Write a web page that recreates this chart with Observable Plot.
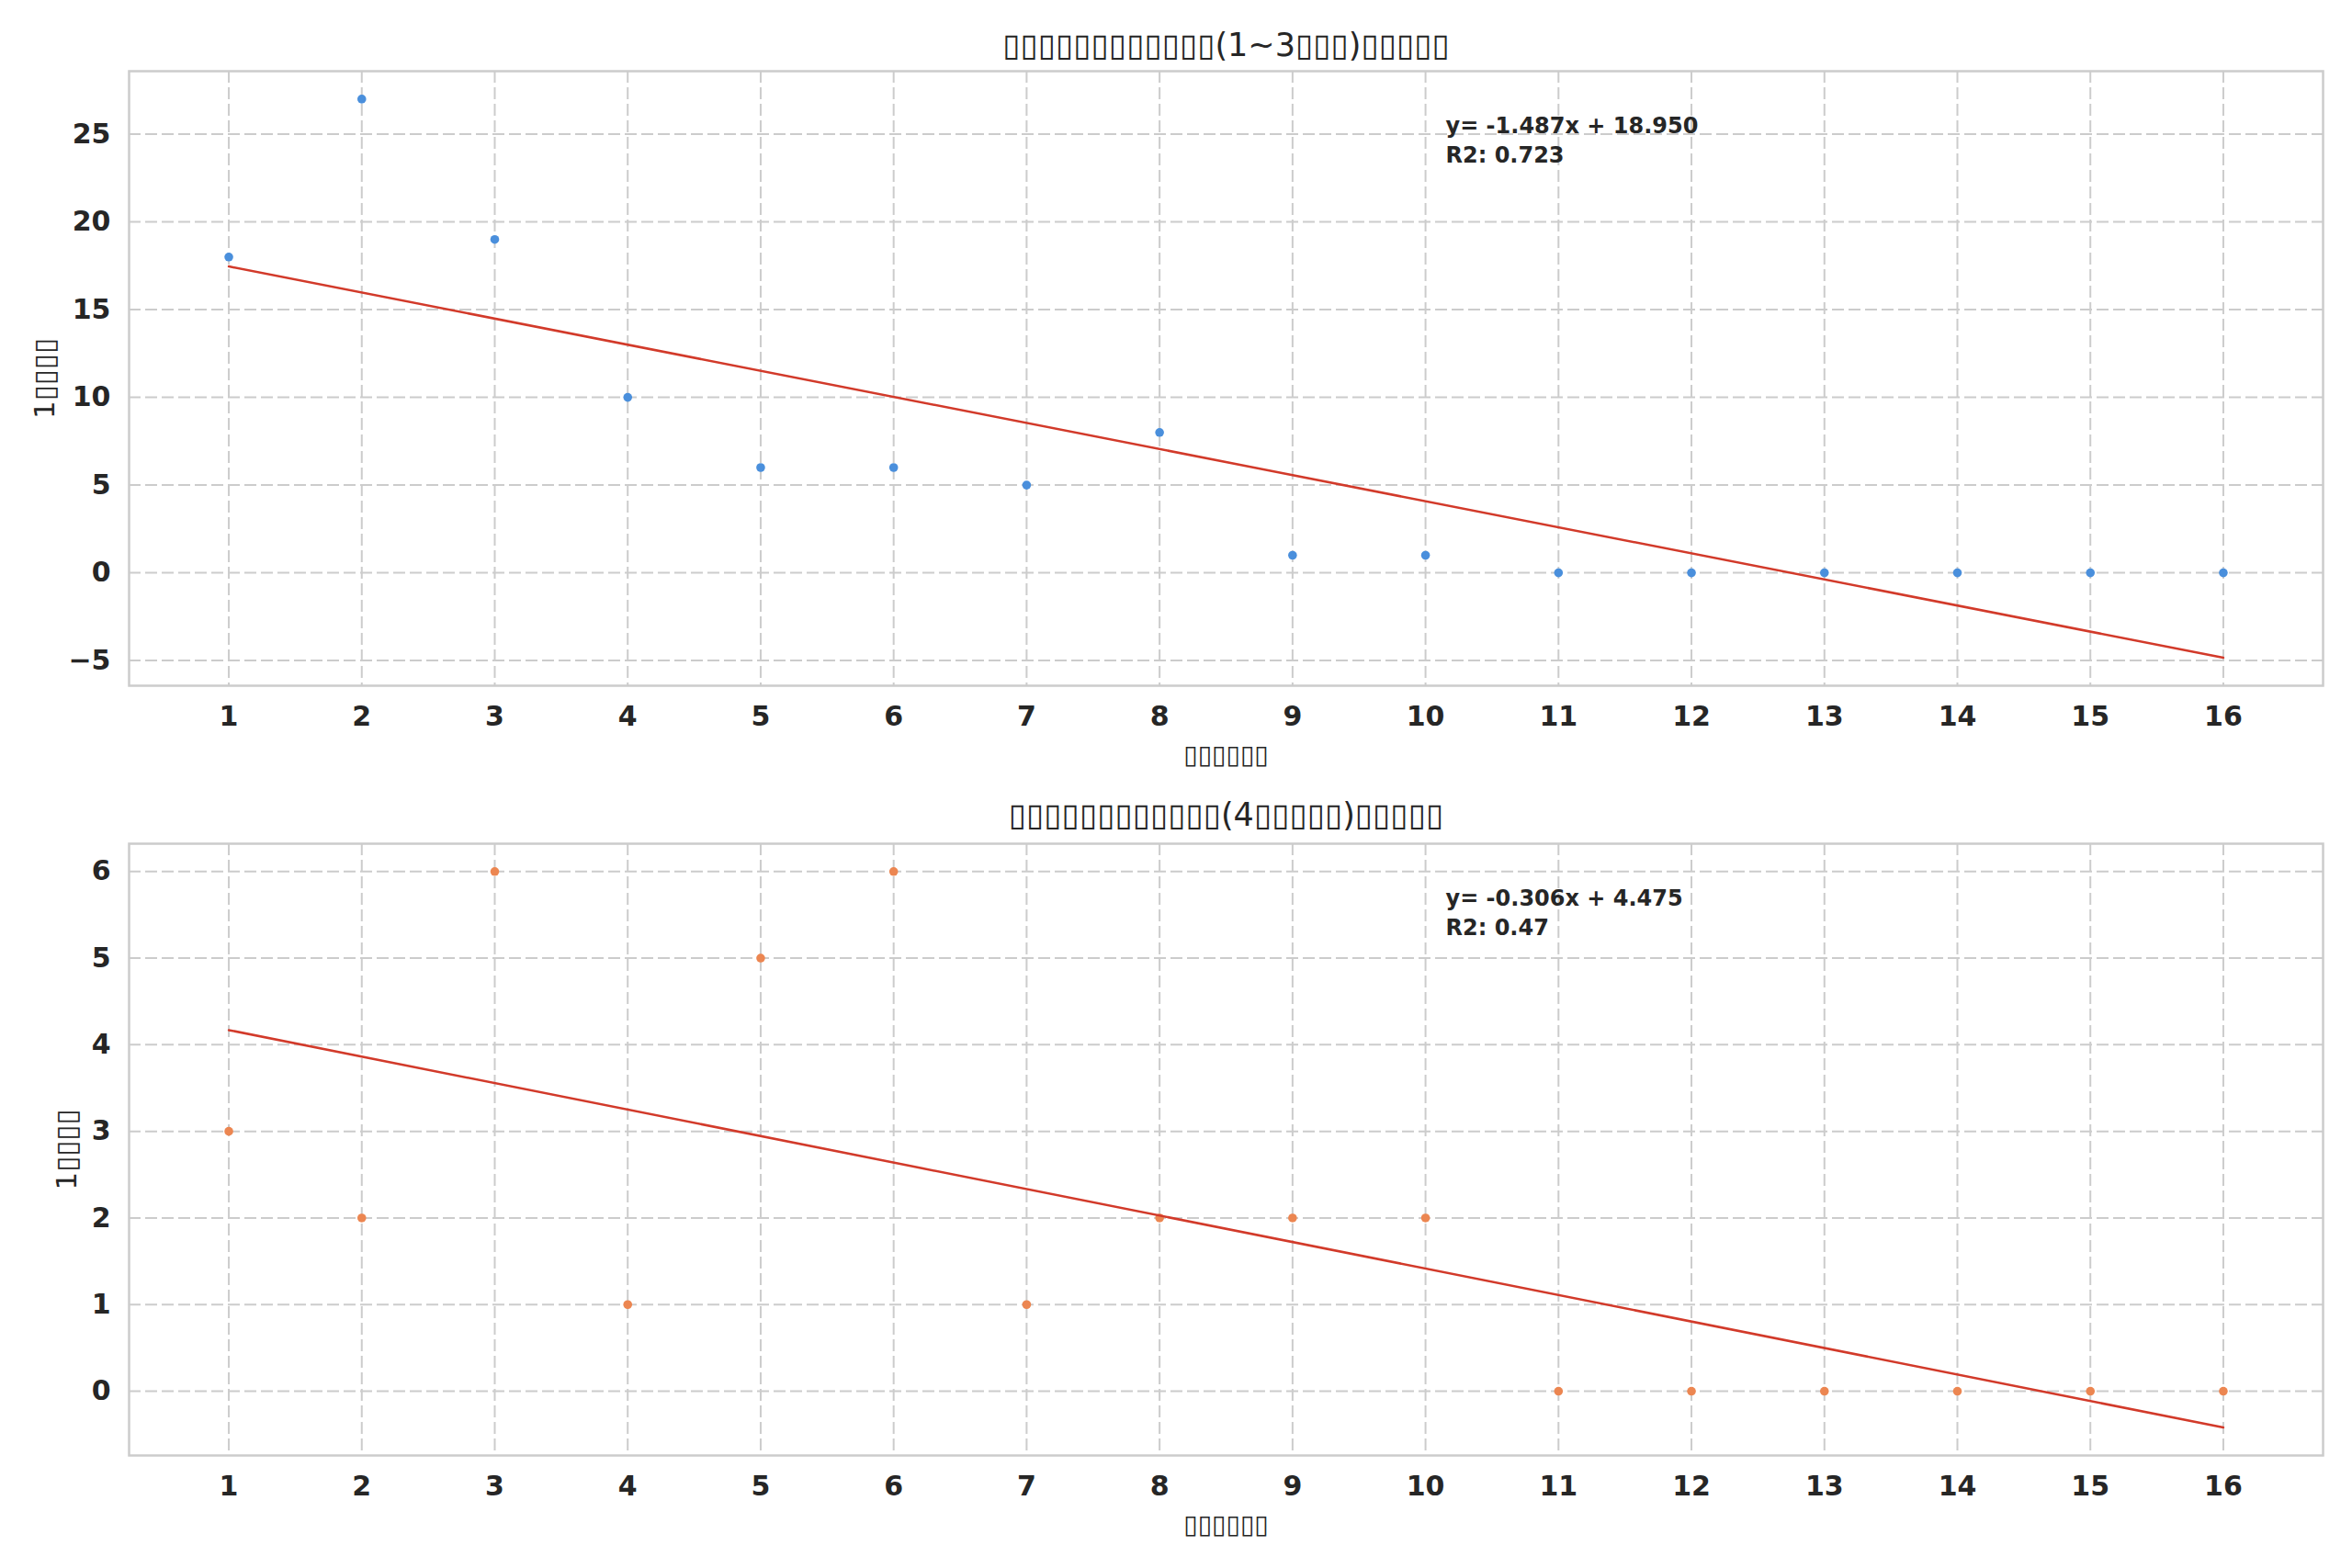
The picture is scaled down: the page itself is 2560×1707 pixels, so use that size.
<!DOCTYPE html>
<html>
<head>
<meta charset="utf-8">
<script src="https://cdn.jsdelivr.net/npm/d3@7"></script>
<script src="https://cdn.jsdelivr.net/npm/@observablehq/plot@0.6"></script>
<style>
  html, body { margin: 0; padding: 0; background: #ffffff; }
  #chart svg { display: block; }
</style>
</head>
<body>
<div id="chart"></div>
<script>
// ---- data ----
// Chinese text in the reference rendered as missing-glyph boxes; kept as boxes (U+25AF).
const B = "\u25AF";
const weeks = [1, 2, 3, 4, 5, 6, 7, 8, 9, 10, 11, 12, 13, 14, 15, 16];
const countsA = [18, 27, 19, 10, 6, 6, 5, 8, 1, 1, 0, 0, 0, 0, 0, 0];
const countsB = [3, 2, 6, 1, 5, 6, 1, 2, 2, 2, 0, 0, 0, 0, 0, 0];
const yTicksA = [-5, 0, 5, 10, 15, 20, 25];
const yTicksB = [0, 1, 2, 3, 4, 5, 6];
const titleA = B.repeat(12) + "(1~3" + B.repeat(3) + ")" + B.repeat(5);
const titleB = B.repeat(12) + "(4" + B.repeat(5) + ")" + B.repeat(5);
const xLabel = B.repeat(6);
const yLabel = "1" + B.repeat(4);
const eqA = ["y= -1.487x + 18.950", "R2: 0.723"];
const eqB = ["y= -0.306x + 4.475", "R2: 0.47"];
const slopeA = -1.487, interceptA = 18.950;
const slopeB = -0.306, interceptB = 4.475;
const colorA = "#4a8fdc";
const colorB = "#ec8651";
const lineColor = "#d23a2a";

function paddedDomain(vals, slope, intercept) {
  const ends = [slope * d3.min(weeks) + intercept, slope * d3.max(weeks) + intercept];
  const lo = Math.min(d3.min(vals), ...ends), hi = Math.max(d3.max(vals), ...ends);
  const pad = (hi - lo) * 0.05;
  return [lo - pad, hi + pad];
}
const xPad = (d3.max(weeks) - d3.min(weeks)) * 0.05;
const xDomain = [d3.min(weeks) - xPad, d3.max(weeks) + xPad];
const intFormat = d3.format("d");

function panel({counts, yTicks, yDomain, color, title, eq, height, marginTop, marginBottom, yLabelDx, titleDy}) {
  const data = weeks.map((w, i) => ({week: w, count: counts[i]}));
  const gridStyle = {stroke: "#cccccc", strokeOpacity: 1, strokeWidth: 2, strokeDasharray: "13,5"};
  return Plot.plot({
    width: 2560,
    height,
    marginTop,
    marginBottom,
    marginLeft: 140,
    marginRight: 32,
    style: {fontFamily: "DejaVu Sans", fontSize: "30px", fontWeight: "bold", color: "#262626", background: "#ffffff", overflow: "visible"},
    x: {domain: xDomain},
    y: {domain: yDomain},
    marks: [
      Plot.gridX(weeks, gridStyle),
      Plot.gridY(yTicks, gridStyle),
      Plot.frame({stroke: "#cccccc", strokeWidth: 2.5}),
      Plot.axisX(weeks, {tickSize: 0, tickPadding: 22, tickFormat: intFormat, label: null}),
      Plot.axisY(yTicks, {tickSize: 0, tickPadding: 20, tickFormat: intFormat, label: null}),
      Plot.dot(data, {x: "week", y: "count", r: 4.8, fill: color}),
      Plot.linearRegressionY(data, {x: "week", y: "count", stroke: lineColor, strokeWidth: 2.5, ci: 0}),
      Plot.text([eq.join("\n")], {frameAnchor: "top-left", dx: 1433, dy: 45, lineAnchor: "top", textAnchor: "start", fontSize: 24, fontWeight: "bold", lineHeight: 1.34, fill: "#262626"}),
      Plot.text([title], {frameAnchor: "top", dy: titleDy, lineAnchor: "middle", fontSize: 35, fontWeight: "normal", fill: "#262626"}),
      Plot.text([xLabel], {frameAnchor: "bottom", dy: 76, lineAnchor: "middle", fontSize: 28, fontWeight: "normal", fill: "#262626"}),
      Plot.text([yLabel], {frameAnchor: "left", dx: yLabelDx, rotate: -90, lineAnchor: "middle", textAnchor: "middle", fontSize: 31, fontWeight: "normal", fill: "#262626"})
    ]
  });
}

const chart = document.getElementById("chart");
chart.append(panel({
  counts: countsA, yTicks: yTicksA, yDomain: paddedDomain(countsA, slopeA, interceptA),
  color: colorA, title: titleA, eq: eqA,
  height: 853, marginTop: 77, marginBottom: 107, yLabelDx: -91, titleDy: -28
}));
chart.append(panel({
  counts: countsB, yTicks: yTicksB, yDomain: paddedDomain(countsB, slopeB, interceptB),
  color: colorB, title: titleB, eq: eqB,
  height: 854, marginTop: 65, marginBottom: 123, yLabelDx: -67, titleDy: -31
}));
</script>
</body>
</html>
